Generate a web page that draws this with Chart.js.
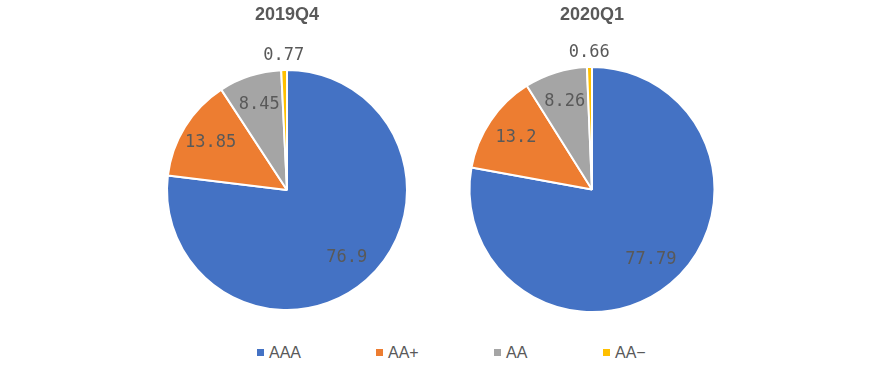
<!DOCTYPE html>
<html>
<head>
<meta charset="utf-8">
<script src="https://cdn.jsdelivr.net/npm/chart.js@4"></script>
<style>
  html, body { margin: 0; padding: 0; background: #fff; }
  #wrap { position: relative; width: 894px; height: 374px; overflow: hidden; }
  .box { position: absolute; top: 0; width: 300px; height: 320px; }
  #legend { position: absolute; top: 343px; left: 0; width: 894px; height: 20px;
    font-family: "Liberation Sans", Arial, sans-serif; font-size: 16px; color: #595959; }
  #legend span.item { position: absolute; top: 0; line-height: 20px; white-space: nowrap; }
  #legend i { display: inline-block; width: 7px; height: 7px; margin-right: 5px; vertical-align: 2px; }
</style>
</head>
<body>
<div id="wrap">
  <div class="box" style="left:137px"><canvas id="pie1"></canvas></div>
  <div class="box" style="left:442px"><canvas id="pie2"></canvas></div>
  <div id="legend"></div>
</div>
<script>
// Datos
const categorias = ['AAA', 'AA+', 'AA', 'AA−'];
const colores = ['#4472C4', '#ED7D31', '#A5A5A5', '#FFC000'];
const titulo1 = '2019Q4';
const valores1 = [76.9, 13.85, 8.45, 0.77];
const titulo2 = '2020Q1';
const valores2 = [77.79, 13.2, 8.26, 0.66];

// Etiquetas de valor sobre cada porción
const etiquetasPlugin = {
  id: 'etiquetas',
  afterDatasetsDraw(chart) {
    const ctx = chart.ctx;
    const meta = chart.getDatasetMeta(0);
    const datos = chart.data.datasets[0].data;
    ctx.save();
    ctx.font = '17px "DejaVu Sans Mono", monospace';
    ctx.fillStyle = '#595959';
    ctx.textAlign = 'center';
    ctx.textBaseline = 'middle';
    meta.data.forEach((arc, i) => {
      const p = arc.getProps(['x', 'y', 'startAngle', 'endAngle', 'outerRadius'], true);
      const medio = (p.startAngle + p.endAngle) / 2;
      const dist = datos[i] < 2 ? p.outerRadius + 14 : p.outerRadius * 0.75;
      const x = p.x + Math.cos(medio) * dist;
      const y = p.y + Math.sin(medio) * dist;
      ctx.fillText(String(datos[i]), x, y);
    });
    ctx.restore();
  }
};

function crearPie(id, titulo, valores, padTitulo, padAbajo) {
  return new Chart(document.getElementById(id), {
    type: 'pie',
    data: {
      labels: categorias,
      datasets: [{
        data: valores,
        backgroundColor: colores,
        borderColor: '#ffffff',
        borderWidth: 2
      }]
    },
    options: {
      responsive: true,
      maintainAspectRatio: false,
      animation: false,
      layout: { padding: { bottom: padAbajo } },
      plugins: {
        legend: { display: false },
        tooltip: { enabled: false },
        title: {
          display: true,
          text: titulo,
          color: '#595959',
          font: { family: '"Liberation Sans", Arial, sans-serif', size: 18, weight: 'bold', lineHeight: 1 },
          padding: { top: 6, bottom: padTitulo }
        }
      }
    },
    plugins: [etiquetasPlugin]
  });
}

crearPie('pie1', titulo1, valores1, 45, 9);
crearPie('pie2', titulo2, valores2, 42, 7);

// Leyenda
const legend = document.getElementById('legend');
const posLeyenda = [257, 376, 494, 603];
categorias.forEach((cat, i) => {
  const span = document.createElement('span');
  span.className = 'item';
  span.style.left = posLeyenda[i] + 'px';
  span.innerHTML = `<i style="background:${colores[i]}"></i>${cat}`;
  legend.appendChild(span);
});
</script>
</body>
</html>
